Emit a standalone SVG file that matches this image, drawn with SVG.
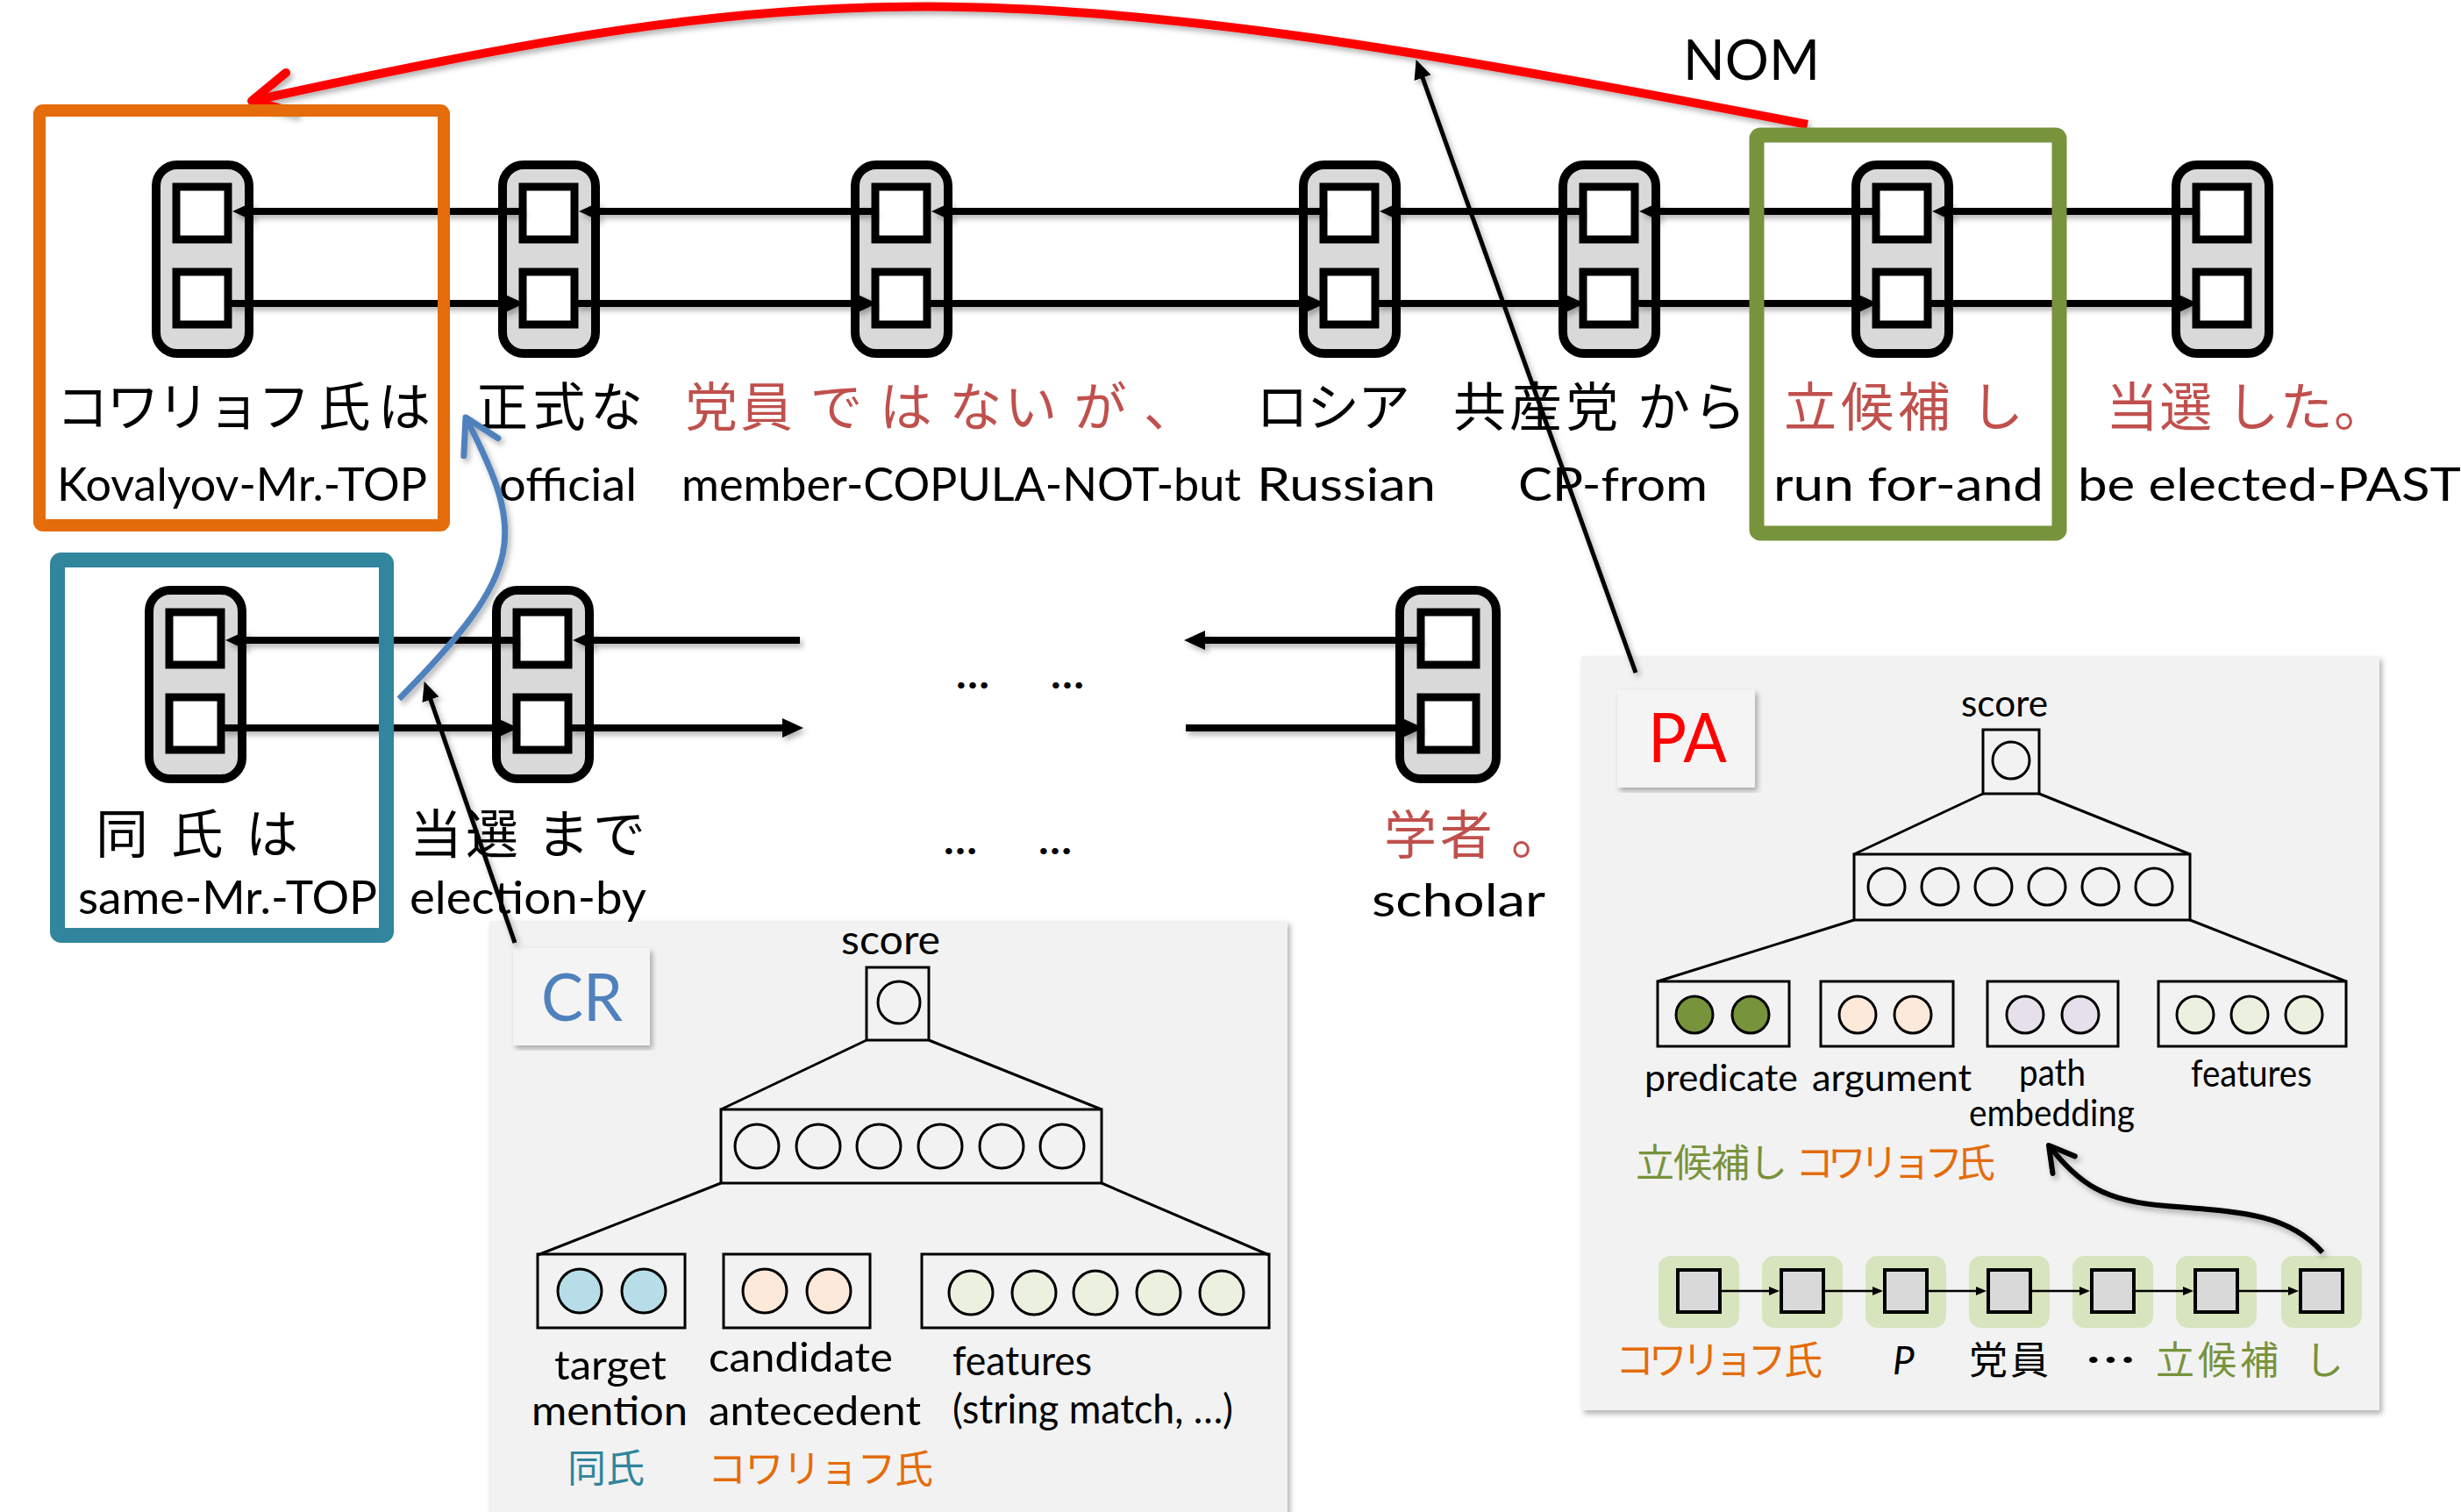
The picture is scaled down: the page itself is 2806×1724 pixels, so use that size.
<svg xmlns="http://www.w3.org/2000/svg" width="2806" height="1724" viewBox="0 0 2806 1724">
<defs>
<style>
.cell{fill:#D9D9D9;stroke:#000;stroke-width:10}
.sq{fill:#fff;stroke:#000;stroke-width:9}
.jp{font-family:"Noto Sans CJK JP","Noto Sans CJK SC",sans-serif;font-size:60px;fill:#000}
.en{font-family:Lato,"Liberation Sans",sans-serif;font-size:52px;fill:#000}
.red{fill:#C0504D}
.arr{fill:none;stroke:#000;stroke-width:8;marker-end:url(#ah)}
.dots{font-family:Lato,"Liberation Sans",sans-serif;font-size:46px;font-weight:700;fill:#000}
.panel{fill:#F2F2F2}
.tag{fill:#F4F4F4}
.box{fill:none;stroke:#000;stroke-width:3}
.ln{stroke:#000;stroke-width:3}
.cw{fill:none;stroke:#000;stroke-width:3}
.nl{font-family:Lato,"Liberation Sans",sans-serif;font-size:47px;fill:#000}
.pl{font-family:Lato,"Liberation Sans",sans-serif;font-size:42px;fill:#000}
.jps{font-family:"Noto Sans CJK JP","Noto Sans CJK SC",sans-serif;font-size:44px}
.frame{fill:none}
.gbg{fill:#D7E4BD}
.gsq{fill:#D9D9D9;stroke:#000;stroke-width:4}
.sarr{fill:none;stroke:#000;stroke-width:2.5;marker-end:url(#ahsm)}
</style>
<marker id="ah" markerUnits="userSpaceOnUse" viewBox="0 0 24 22" markerWidth="24" markerHeight="22" refX="8" refY="11" orient="auto">
<path d="M0,0 L24,11 L0,22 z" fill="#000"/>
</marker>
<marker id="ahthin" markerUnits="userSpaceOnUse" viewBox="0 0 22 20" markerWidth="22" markerHeight="20" refX="6" refY="10" orient="auto">
<path d="M0,0 L22,10 L0,20 z" fill="#000"/>
</marker>
<marker id="ahsm" markerUnits="userSpaceOnUse" viewBox="0 0 12 10" markerWidth="12" markerHeight="10" refX="4" refY="5" orient="auto">
<path d="M0,0 L12,5 L0,10 z" fill="#000"/>
</marker>
<marker id="redV" markerUnits="userSpaceOnUse" viewBox="-54 -32 62 64" markerWidth="62" markerHeight="64" refX="0" refY="0" orient="auto">
<path d="M-45,-23 L0,0 L-45,23" fill="none" stroke="#FF0000" stroke-width="10" stroke-linecap="round" stroke-linejoin="round"/>
</marker>
<marker id="blueV" markerUnits="userSpaceOnUse" viewBox="-45 -30 52 60" markerWidth="52" markerHeight="60" refX="0" refY="0" orient="auto">
<path d="M-38,-22 L0,0 L-38,22" fill="none" stroke="#4F81BD" stroke-width="7" stroke-linecap="round" stroke-linejoin="round"/>
</marker>
<marker id="blackV" markerUnits="userSpaceOnUse" viewBox="-35 -22 42 44" markerWidth="42" markerHeight="44" refX="0" refY="0" orient="auto">
<path d="M-28,-16 L0,0 L-28,16" fill="none" stroke="#000" stroke-width="6" stroke-linecap="round" stroke-linejoin="round"/>
</marker>
<filter id="sh" x="-5%" y="-5%" width="110%" height="110%">
<feDropShadow dx="3" dy="4" stdDeviation="3" flood-color="#000" flood-opacity="0.3"/>
</filter>
</defs>
<rect width="2806" height="1724" fill="#fff"/>

<!-- CR panel -->
<g id="panel-cr">
<rect class="panel" x="558" y="1050" width="910" height="700" filter="url(#sh)"/>
<rect class="tag" x="585" y="1081" width="156" height="111" filter="url(#sh)"/>
<text x="617" y="1164" font-family="Lato, 'Liberation Sans', sans-serif" font-size="76" fill="#4F81BD" textLength="93" lengthAdjust="spacingAndGlyphs">CR</text>
<text class="nl" x="959" y="1088" font-size="48" textLength="113" lengthAdjust="spacingAndGlyphs">score</text>
<rect class="box" x="988" y="1103" width="71" height="83"/>
<circle class="cw" cx="1025" cy="1143" r="24"/>
<line class="ln" x1="988" y1="1186" x2="822" y2="1265"/>
<line class="ln" x1="1059" y1="1186" x2="1256" y2="1265"/>
<rect class="box" x="822" y="1265" width="434" height="84"/>
<g class="cw">
<circle cx="863" cy="1307" r="25"/><circle cx="933" cy="1307" r="25"/><circle cx="1002" cy="1307" r="25"/>
<circle cx="1072" cy="1307" r="25"/><circle cx="1142" cy="1307" r="25"/><circle cx="1211" cy="1307" r="25"/>
</g>
<line class="ln" x1="822" y1="1349" x2="613" y2="1431"/>
<line class="ln" x1="1256" y1="1349" x2="1447" y2="1431"/>
<rect class="box" x="613" y="1430" width="168" height="84"/>
<circle cx="661" cy="1472" r="25" fill="#B7DEE8" stroke="#000" stroke-width="3"/>
<circle cx="734" cy="1472" r="25" fill="#B7DEE8" stroke="#000" stroke-width="3"/>
<rect class="box" x="825" y="1430" width="167" height="84"/>
<circle cx="872" cy="1472" r="25" fill="#FDE9D9" stroke="#000" stroke-width="3"/>
<circle cx="945" cy="1472" r="25" fill="#FDE9D9" stroke="#000" stroke-width="3"/>
<rect class="box" x="1051" y="1430" width="396" height="84"/>
<g fill="#EBF1DE" stroke="#000" stroke-width="3">
<circle cx="1107" cy="1474" r="25"/><circle cx="1179" cy="1474" r="25"/><circle cx="1249" cy="1474" r="25"/>
<circle cx="1321" cy="1474" r="25"/><circle cx="1393" cy="1474" r="25"/>
</g>
<text class="nl" x="632" y="1573" textLength="128" lengthAdjust="spacingAndGlyphs">target</text>
<text class="nl" x="606" y="1625" textLength="178" lengthAdjust="spacingAndGlyphs">mention</text>
<text class="nl" x="808" y="1564" textLength="210" lengthAdjust="spacingAndGlyphs">candidate</text>
<text class="nl" x="808" y="1625" textLength="242" lengthAdjust="spacingAndGlyphs">antecedent</text>
<text class="nl" x="1086" y="1568" textLength="159" lengthAdjust="spacingAndGlyphs">features</text>
<text class="nl" x="1086" y="1623" textLength="320" lengthAdjust="spacingAndGlyphs">(string match, …)</text>
<text class="jps" x="647" y="1690" font-size="49" fill="#31859C">同氏</text>
<text class="jps" x="807" y="1691" font-size="45" fill="#E46C0A" textLength="257" lengthAdjust="spacing">コワリョフ氏</text>
</g>

<!-- PA panel -->
<g id="panel-pa">
<rect class="panel" x="1803" y="748" width="910" height="860" filter="url(#sh)"/>
<rect class="tag" x="1844" y="786" width="157" height="112" filter="url(#sh)"/>
<text x="1879" y="869" font-family="Lato, 'Liberation Sans', sans-serif" font-size="78" fill="#FF0000" textLength="90" lengthAdjust="spacingAndGlyphs">PA</text>
<text class="pl" x="2236" y="817" font-size="44" textLength="99" lengthAdjust="spacingAndGlyphs">score</text>
<rect class="box" x="2261" y="832" width="64" height="73"/>
<circle class="cw" cx="2293" cy="867" r="21"/>
<line class="ln" x1="2261" y1="905" x2="2114" y2="974"/>
<line class="ln" x1="2325" y1="905" x2="2497" y2="974"/>
<rect class="box" x="2114" y="974" width="383" height="75"/>
<g class="cw">
<circle cx="2151" cy="1011" r="21"/><circle cx="2212" cy="1011" r="21"/><circle cx="2273" cy="1011" r="21"/>
<circle cx="2334" cy="1011" r="21"/><circle cx="2395" cy="1011" r="21"/><circle cx="2456" cy="1011" r="21"/>
</g>
<line class="ln" x1="2114" y1="1049" x2="1890" y2="1119"/>
<line class="ln" x1="2497" y1="1049" x2="2675" y2="1119"/>
<rect class="box" x="1890" y="1119" width="150" height="74"/>
<circle cx="1932" cy="1157" r="21" fill="#77933C" stroke="#000" stroke-width="3"/>
<circle cx="1996" cy="1157" r="21" fill="#77933C" stroke="#000" stroke-width="3"/>
<rect class="box" x="2076" y="1119" width="151" height="74"/>
<circle cx="2118" cy="1157" r="21" fill="#FDE9D9" stroke="#000" stroke-width="3"/>
<circle cx="2181" cy="1157" r="21" fill="#FDE9D9" stroke="#000" stroke-width="3"/>
<rect class="box" x="2266" y="1119" width="149" height="74"/>
<circle cx="2309" cy="1157" r="21" fill="#E6E0EC" stroke="#000" stroke-width="3"/>
<circle cx="2372" cy="1157" r="21" fill="#E6E0EC" stroke="#000" stroke-width="3"/>
<rect class="box" x="2461" y="1119" width="214" height="74"/>
<g fill="#EBF1DE" stroke="#000" stroke-width="3">
<circle cx="2503" cy="1157" r="21"/><circle cx="2565" cy="1157" r="21"/><circle cx="2627" cy="1157" r="21"/>
</g>
<text class="pl" x="1875" y="1244" textLength="175" lengthAdjust="spacingAndGlyphs">predicate</text>
<text class="pl" x="2066" y="1244" textLength="182" lengthAdjust="spacingAndGlyphs">argument</text>
<text class="pl" x="2302" y="1238" textLength="76" lengthAdjust="spacingAndGlyphs">path</text>
<text class="pl" x="2245" y="1284" textLength="189" lengthAdjust="spacingAndGlyphs">embedding</text>
<text class="pl" x="2498" y="1239" textLength="138" lengthAdjust="spacingAndGlyphs">features</text>
<text class="jps" x="1865" y="1342" fill="#77933C" textLength="173" lengthAdjust="spacing">立候補し</text>
<text class="jps" x="2047" y="1342" fill="#E46C0A" textLength="228" lengthAdjust="spacing">コワリョフ氏</text>
<g id="pa-path">
<rect class="gbg" x="1891" y="1432" width="92" height="82" rx="14"/>
<rect class="gbg" x="2009" y="1432" width="92" height="82" rx="14"/>
<rect class="gbg" x="2127" y="1432" width="92" height="82" rx="14"/>
<rect class="gbg" x="2245" y="1432" width="92" height="82" rx="14"/>
<rect class="gbg" x="2363" y="1432" width="92" height="82" rx="14"/>
<rect class="gbg" x="2481" y="1432" width="92" height="82" rx="14"/>
<rect class="gbg" x="2601" y="1432" width="92" height="82" rx="14"/>
<rect class="gsq" x="1913" y="1448" width="48" height="48"/>
<rect class="gsq" x="2031" y="1448" width="48" height="48"/>
<rect class="gsq" x="2149" y="1448" width="48" height="48"/>
<rect class="gsq" x="2267" y="1448" width="48" height="48"/>
<rect class="gsq" x="2385" y="1448" width="48" height="48"/>
<rect class="gsq" x="2503" y="1448" width="48" height="48"/>
<rect class="gsq" x="2623" y="1448" width="48" height="48"/>
<path class="sarr" d="M1963,1472 L2021,1472"/>
<path class="sarr" d="M2081,1472 L2139,1472"/>
<path class="sarr" d="M2199,1472 L2257,1472"/>
<path class="sarr" d="M2317,1472 L2375,1472"/>
<path class="sarr" d="M2435,1472 L2493,1472"/>
<path class="sarr" d="M2553,1472 L2613,1472"/>
</g>
<text class="jps" x="1842" y="1567" fill="#E46C0A" textLength="236" lengthAdjust="spacing">コワリョフ 氏</text>
<text x="2158" y="1567" font-family="Lato, 'Liberation Sans', sans-serif" font-size="44" font-style="italic" fill="#000">P</text>
<text class="jps" x="2245" y="1567" fill="#000" textLength="91" lengthAdjust="spacing">党員</text>
<text class="jps" x="2377" y="1567" fill="#000" font-weight="700" textLength="59" lengthAdjust="spacingAndGlyphs">…</text>
<text class="jps" x="2458" y="1567" fill="#77933C" textLength="140" lengthAdjust="spacing">立候補</text>
<text class="jps" x="2628" y="1567" fill="#77933C">し</text>
</g>

<!-- Row 1 nodes -->
<g id="node-1">
<g transform="translate(231,183)"><rect class="cell" x="-53" y="5" width="106" height="215" rx="24"/><rect class="sq" x="-30" y="30" width="59" height="60"/><rect class="sq" x="-30" y="127" width="59" height="60"/></g>
<text class="jp" x="64" y="486" font-size="58" textLength="427" lengthAdjust="spacing">コワリョフ 氏 は</text>
<text class="en" x="65" y="571" textLength="422" lengthAdjust="spacingAndGlyphs">Kovalyov-Mr.-TOP</text>
</g>
<g id="node-2">
<g transform="translate(626,183)"><rect class="cell" x="-53" y="5" width="106" height="215" rx="24"/><rect class="sq" x="-30" y="30" width="59" height="60"/><rect class="sq" x="-30" y="127" width="59" height="60"/></g>
<text class="jp" x="542" y="486" textLength="191" lengthAdjust="spacing">正式な</text>
<text class="en" x="569" y="571" textLength="157" lengthAdjust="spacingAndGlyphs">official</text>
</g>
<g id="node-3">
<g transform="translate(1028,183)"><rect class="cell" x="-53" y="5" width="106" height="215" rx="24"/><rect class="sq" x="-30" y="30" width="59" height="60"/><rect class="sq" x="-30" y="127" width="59" height="60"/></g>
<text class="jp red" x="781" y="486" textLength="583" lengthAdjust="spacing">党員 で は ない が 、</text>
<text class="en" x="777" y="571" textLength="638" lengthAdjust="spacingAndGlyphs">member-COPULA-NOT-but</text>
</g>
<g id="node-4">
<g transform="translate(1539,183)"><rect class="cell" x="-53" y="5" width="106" height="215" rx="24"/><rect class="sq" x="-30" y="30" width="59" height="60"/><rect class="sq" x="-30" y="127" width="59" height="60"/></g>
<text class="jp" x="1432" y="486" textLength="176" lengthAdjust="spacing">ロシア</text>
<text class="en" x="1433" y="571" textLength="204" lengthAdjust="spacingAndGlyphs">Russian</text>
</g>
<g id="node-5">
<g transform="translate(1835,183)"><rect class="cell" x="-53" y="5" width="106" height="215" rx="24"/><rect class="sq" x="-30" y="30" width="59" height="60"/><rect class="sq" x="-30" y="127" width="59" height="60"/></g>
<text class="jp" x="1657" y="486" textLength="334" lengthAdjust="spacing">共産党 から</text>
<text class="en" x="1731" y="571" textLength="216" lengthAdjust="spacingAndGlyphs">CP-from</text>
</g>
<g id="node-6">
<g transform="translate(2169,183)"><rect class="cell" x="-53" y="5" width="106" height="215" rx="24"/><rect class="sq" x="-30" y="30" width="59" height="60"/><rect class="sq" x="-30" y="127" width="59" height="60"/></g>
<text class="jp red" x="2034" y="486" textLength="273" lengthAdjust="spacing">立候補 し</text>
<text class="en" x="2022" y="571" textLength="308" lengthAdjust="spacingAndGlyphs">run for-and</text>
</g>
<g id="node-7">
<g transform="translate(2534,183)"><rect class="cell" x="-53" y="5" width="106" height="215" rx="24"/><rect class="sq" x="-30" y="30" width="59" height="60"/><rect class="sq" x="-30" y="127" width="59" height="60"/></g>
<text class="jp red" x="2401" y="486" textLength="320" lengthAdjust="spacing">当選 した。</text>
<text class="en" x="2369" y="571" textLength="437" lengthAdjust="spacingAndGlyphs">be elected-PAST</text>
</g>

<!-- Row 2 nodes -->
<g id="node-8">
<g transform="translate(223,668)"><rect class="cell" x="-53" y="5" width="106" height="215" rx="24"/><rect class="sq" x="-30" y="30" width="59" height="60"/><rect class="sq" x="-30" y="127" width="59" height="60"/></g>
<text class="jp" x="109" y="973" textLength="231" lengthAdjust="spacing">同 氏 は</text>
<text class="en" x="89" y="1042" textLength="341" lengthAdjust="spacingAndGlyphs">same-Mr.-TOP</text>
</g>
<g id="node-9">
<g transform="translate(619,668)"><rect class="cell" x="-53" y="5" width="106" height="215" rx="24"/><rect class="sq" x="-30" y="30" width="59" height="60"/><rect class="sq" x="-30" y="127" width="59" height="60"/></g>
<text class="jp" x="467" y="973" textLength="269" lengthAdjust="spacing">当選 まで</text>
<text class="en" x="467" y="1042" textLength="270" lengthAdjust="spacingAndGlyphs">election-by</text>
</g>
<g id="node-10">
<g transform="translate(1651,668)"><rect class="cell" x="-55" y="5" width="110" height="215" rx="24"/><rect class="sq" x="-31" y="30" width="63" height="60"/><rect class="sq" x="-31" y="127" width="63" height="60"/></g>
<text class="jp red" x="1578" y="974" textLength="205" lengthAdjust="spacing">学者 。</text>
<text class="en" x="1564" y="1045" textLength="198" lengthAdjust="spacingAndGlyphs">scholar</text>
</g>

<g id="ellipses">
<text class="dots" x="1090" y="785" textLength="38" lengthAdjust="spacingAndGlyphs">…</text>
<text class="dots" x="1198" y="785" textLength="38" lengthAdjust="spacingAndGlyphs">…</text>
<text class="dots" x="1076" y="974" textLength="38" lengthAdjust="spacingAndGlyphs">…</text>
<text class="dots" x="1184" y="974" textLength="38" lengthAdjust="spacingAndGlyphs">…</text>
</g>

<!-- Connectors -->
<g id="connectors" filter="url(#sh)">
<path class="arr" d="M596,241 L281,241"/>
<path class="arr" d="M998,241 L676,241"/>
<path class="arr" d="M1509,241 L1078,241"/>
<path class="arr" d="M1805,241 L1589,241"/>
<path class="arr" d="M2139,241 L1885,241"/>
<path class="arr" d="M2504,241 L2219,241"/>
<path class="arr" d="M261,346 L582,346"/>
<path class="arr" d="M656,346 L984,346"/>
<path class="arr" d="M1058,346 L1495,346"/>
<path class="arr" d="M1569,346 L1791,346"/>
<path class="arr" d="M1865,346 L2125,346"/>
<path class="arr" d="M2199,346 L2490,346"/>
<path class="arr" d="M912,730 L669,730"/>
<path class="arr" d="M589,730 L273,730"/>
<path class="arr" d="M1620,730 L1366,730"/>
<path class="arr" d="M253,830 L575,830"/>
<path class="arr" d="M649,830 L900,830"/>
<path class="arr" d="M1352,830 L1607,830"/>
<path d="M1865,767 L1620,83" fill="none" stroke="#000" stroke-width="5" marker-end="url(#ahthin)"/>
<path d="M587,1075 L489,792" fill="none" stroke="#000" stroke-width="5" marker-end="url(#ahthin)"/>
<path d="M455,797 C600,650 600,610 531,476" fill="none" stroke="#4F81BD" stroke-width="7" marker-end="url(#blueV)"/>
<path d="M2061,142 C1150,-35 950,-30 287,115" fill="none" stroke="#FF0000" stroke-width="10" marker-end="url(#redV)"/>
<path d="M2648,1428 C2610,1385 2560,1382 2470,1375 C2400,1370 2370,1350 2336,1306" fill="none" stroke="#000" stroke-width="6" marker-end="url(#blackV)"/>
</g>

<text x="1919" y="91" font-family="Lato, 'Liberation Sans', sans-serif" font-size="64" fill="#000" textLength="156" lengthAdjust="spacingAndGlyphs">NOM</text>

<!-- Highlight frames -->
<g id="frames">
<rect class="frame" x="45" y="126" width="461" height="473" rx="4" stroke="#E46C0A" stroke-width="14"/>
<rect class="frame" x="65.5" y="638.5" width="375" height="428" rx="4" stroke="#31859C" stroke-width="17"/>
<rect class="frame" x="2003" y="154" width="345" height="454" rx="4" stroke="#77933C" stroke-width="17"/>
</g>
</svg>
